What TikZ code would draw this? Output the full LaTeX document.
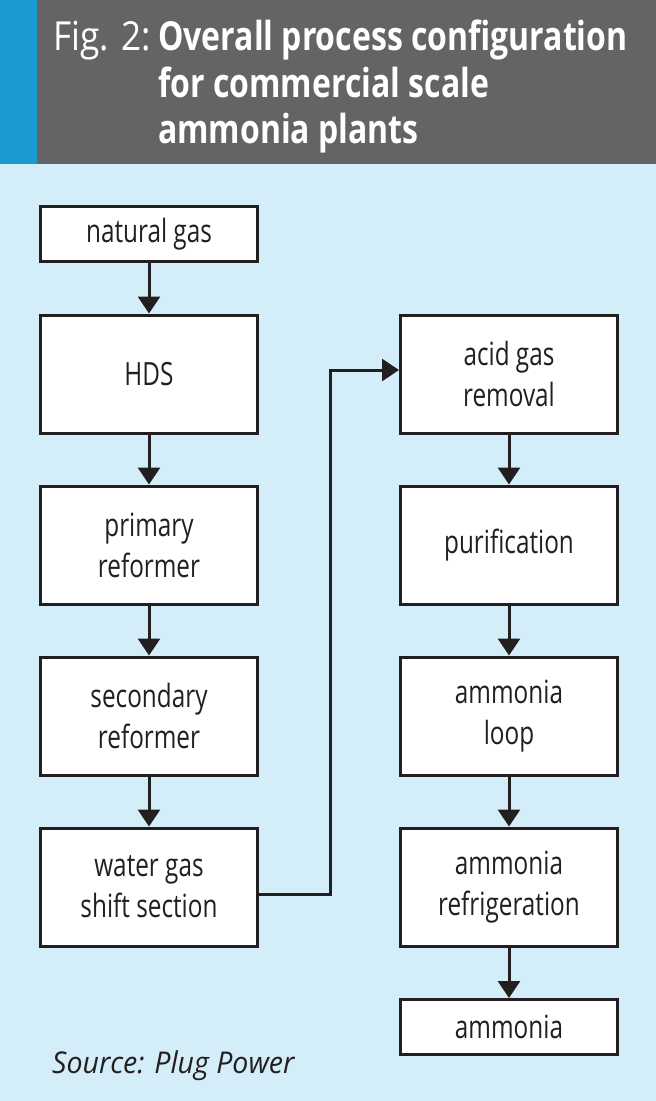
\documentclass[tikz,border=0pt]{standalone}
\usepackage{fontspec}
\usepackage{tikz}
\usetikzlibrary{arrows.meta}
\setmainfont{Open Sans}
\newfontfamily\titlefont[FakeStretch=0.80]{Open Sans}
\newfontfamily\figfont[FakeStretch=0.88]{Open Sans}
\newfontfamily\boxfont[FakeStretch=0.76]{Open Sans}
\newfontfamily\sourcefont[FakeStretch=0.95]{Open Sans}
\definecolor{headgrey}{HTML}{636466}
\definecolor{stripblue}{HTML}{1A9BD0}
\definecolor{paleblue}{HTML}{D3EDF9}
\definecolor{inkdark}{HTML}{231F20}
\tikzset{
  stagebox/.style={draw=inkdark,line width=3pt,fill=white,minimum width=217pt,
    minimum height=118pt,align=center,text=inkdark,inner sep=0pt,
    font=\boxfont\fontsize{32}{41}\selectfont},
  endbox/.style={stagebox,minimum height=55pt},
  titleline/.style={anchor=base west,text=white,inner sep=0pt,
    font=\titlefont\bfseries\fontsize{40}{46}\selectfont},
  flow/.style={draw=inkdark,line width=3pt,-{Triangle[width=22pt,length=17pt]}}
}
\begin{document}
\begin{tikzpicture}[x=1pt,y=-1pt]
\fill[paleblue] (0,0) rectangle (656,1101);
\fill[headgrey] (0,0) rectangle (656,164);
\fill[stripblue] (0,0) rectangle (37,164);
% title
\node[titleline,font=\figfont\fontsize{40}{46}\selectfont] (fig) at (53,50) {Fig. 2:};
\node[titleline] (title1) at (158,50) {Overall process configuration};
\node[titleline] (title2) at (158,97) {for commercial scale};
\node[titleline] (title3) at (158,143) {ammonia plants};
% left column
\node[endbox] (gas) at (149,234) {natural gas};
\node[stagebox] (hds) at (149,374) {HDS};
\node[stagebox] (primary) at (149,545) {primary\\reformer};
\node[stagebox] (secondary) at (149,716) {secondary\\reformer};
\node[stagebox] (wgs) at (149,887) {water gas\\shift section};
% right column
\node[stagebox] (acid) at (509,374) {acid gas\\removal};
\node[stagebox] (purif) at (509,545) {purification};
\node[stagebox] (loop) at (509,716) {ammonia\\loop};
\node[stagebox] (refrig) at (509,887) {ammonia\\refrigeration};
\node[endbox] (nh3) at (509,1027) {ammonia};
\coordinate (riser) at (330,600);
% connectors
\draw[flow] (gas) -- (hds);
\draw[flow] (hds) -- (primary);
\draw[flow] (primary) -- (secondary);
\draw[flow] (secondary) -- (wgs);
\draw[flow] ([yshift=-7pt]wgs.east) -| (riser) |- ([yshift=4pt]acid.west);
\draw[flow] (acid) -- (purif);
\draw[flow] (purif) -- (loop);
\draw[flow] (loop) -- (refrig);
\draw[flow] (refrig) -- (nh3);
\node[anchor=base west,inner sep=0pt,text=inkdark,font=\sourcefont\itshape\fontsize{30}{36}\selectfont] (source) at (52,1073) {Source: Plug Power};
\end{tikzpicture}
\end{document}
